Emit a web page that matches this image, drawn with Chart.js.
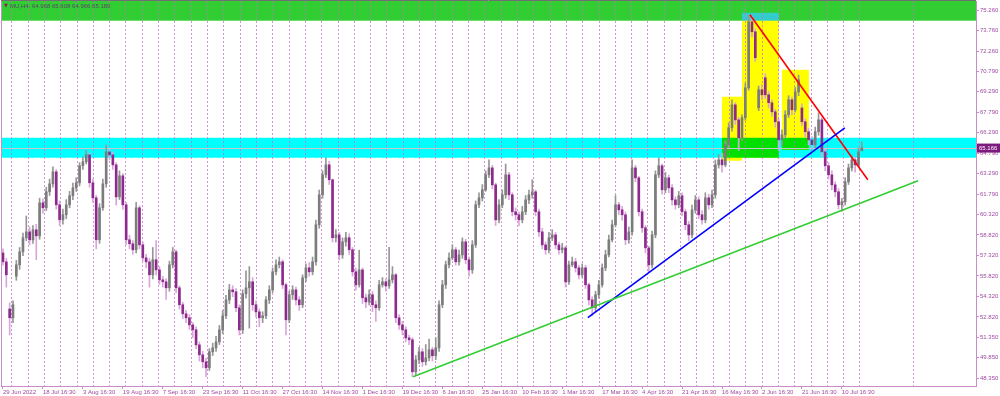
<!DOCTYPE html>
<html>
<head>
<meta charset="utf-8">
<script src="https://cdn.jsdelivr.net/npm/chart.js@4.4.0/dist/chart.umd.min.js"></script>
<style>
  html, body { margin: 0; padding: 0; background: #ffffff; }
  #wrap { width: 1000px; height: 396px; }
</style>
</head>
<body>
<div id="wrap"><canvas id="chart" width="1000" height="396"></canvas></div>
<script>
// MU, H4 candles
const opens = [
    57.50,56.85,53.40,52.76,55.80,56.63,57.58,58.61,59.04,58.46,59.19,58.75,
    61.16,60.80,61.97,62.55,63.43,61.02,59.92,60.29,61.02,61.68,62.26,62.63,
    63.87,64.16,64.67,62.63,61.53,58.46,60.80,62.55,64.89,64.67,63.94,61.60,
    63.14,61.02,58.46,58.17,57.73,60.80,58.09,57.14,56.85,55.90,57.00,56.26,
    55.53,55.39,54.95,56.63,57.58,54.95,53.71,53.05,52.76,52.24,51.88,50.78,
    50.05,49.54,49.10,50.27,50.56,51.00,51.88,52.90,54.07,54.80,54.66,53.49,
    51.88,54.51,54.95,55.39,53.71,53.19,52.76,52.90,54.07,54.80,56.12,56.63,
    56.85,55.17,52.61,54.44,54.80,54.07,53.71,55.68,56.41,56.12,56.85,59.56,
    61.75,63.21,63.94,62.85,58.61,58.82,57.36,58.31,58.61,57.73,56.12,55.17,
    56.26,54.22,53.92,54.44,53.71,53.49,55.17,55.39,55.09,55.53,55.90,52.76,
    52.24,51.88,51.29,51.15,48.81,49.68,50.27,49.54,49.83,50.42,49.98,50.56,
    53.71,55.17,56.63,57.14,57.73,56.85,57.36,58.31,57.00,56.26,58.09,61.02,
    61.53,62.12,63.21,63.72,62.48,59.92,61.02,61.75,63.21,61.75,60.51,60.29,
    59.92,60.51,61.38,61.75,61.97,60.51,59.04,58.09,57.73,58.61,58.82,58.09,
    57.73,57.87,55.39,56.63,56.85,56.41,55.90,56.41,55.17,54.07,53.49,54.44,
    55.17,56.41,57.36,58.46,59.56,61.02,60.65,60.29,58.46,59.04,63.72,62.99,
    60.51,59.34,57.87,56.63,58.82,63.21,63.87,62.12,62.99,62.26,61.38,61.02,
    61.68,60.51,59.56,58.82,60.65,61.38,60.29,59.92,61.53,61.02,61.75,63.94,
    64.31,63.94,65.41,66.65,68.33,67.23,65.92,67.38,69.57,74.40,73.67,68.11,
    69.43,70.31,69.06,68.48,67.82,67.09,65.77,66.14,67.60,68.70,67.97,69.28,
    68.10,67.09,66.36,65.77,65.41,66.36,67.23,64.89,63.87,63.21,62.48,61.97,
    61.02,61.24,62.70,63.72,64.31,63.94,64.97
];
const highs = [
    57.80,57.10,53.85,54.00,56.95,57.90,58.95,60.20,59.40,59.50,59.60,61.50,
    61.45,62.30,62.90,63.80,63.60,61.30,60.70,61.40,62.00,62.60,63.00,64.10,
    64.50,65.00,64.80,62.90,61.70,61.10,62.90,65.40,65.10,64.90,64.10,63.50,
    63.30,61.20,58.80,58.40,61.20,60.95,58.30,57.40,57.10,57.90,58.40,56.50,
    55.80,55.60,56.90,57.90,57.70,55.10,53.90,53.30,53.00,52.40,52.10,51.00,
    50.30,49.80,50.50,50.90,51.40,52.20,53.30,54.40,55.20,55.10,54.90,53.70,
    54.80,56.20,56.50,55.70,54.00,53.40,53.20,54.30,55.10,56.40,57.00,57.20,
    57.00,55.30,54.70,55.10,55.00,54.30,55.90,56.70,56.80,57.20,59.90,62.10,
    63.50,64.45,64.20,62.90,59.20,59.00,58.60,59.00,58.90,57.90,56.40,57.70,
    56.40,54.50,54.80,54.70,54.00,55.50,55.70,55.60,57.90,56.50,56.00,53.00,
    52.50,52.10,51.50,51.30,50.00,50.60,50.50,50.80,51.20,50.60,51.30,54.00,
    55.50,56.90,57.50,58.10,57.90,57.70,58.60,58.50,57.20,58.40,61.30,61.90,
    62.50,63.50,64.30,63.90,62.60,61.40,62.10,64.00,63.40,61.90,60.80,60.50,
    60.90,61.70,62.10,62.85,62.10,60.70,59.30,58.30,59.00,59.20,59.00,58.30,
    58.20,58.00,56.90,57.20,57.10,56.60,56.70,56.60,55.30,54.30,54.70,55.50,
    56.70,57.70,58.80,59.90,61.70,61.20,60.90,60.50,59.40,64.30,63.90,63.10,
    60.70,59.50,58.00,59.10,63.50,64.45,64.00,63.40,63.20,62.50,61.60,62.00,
    61.90,60.70,59.80,61.00,61.70,61.60,60.60,61.90,61.80,62.10,64.30,64.70,
    64.80,65.70,67.00,68.70,68.50,67.40,67.60,69.90,74.90,74.80,73.90,69.70,
    69.80,70.60,69.30,68.70,68.00,67.30,66.50,67.90,69.00,68.90,69.60,70.50,
    68.40,67.30,66.60,66.00,66.70,67.75,67.40,65.10,64.10,63.50,62.70,62.20,
    61.50,63.00,64.00,64.60,64.50,65.20,65.61
];
const lows = [
    56.60,55.00,51.50,52.40,55.50,56.30,57.30,58.40,58.10,58.20,57.00,58.50,
    60.40,60.60,61.70,62.30,60.70,59.50,59.60,60.00,60.80,61.40,62.00,62.40,
    63.60,64.00,62.30,61.20,57.80,58.20,60.60,62.30,64.30,63.60,61.00,61.40,
    60.70,58.10,57.80,57.40,57.50,57.80,56.90,56.40,55.00,55.60,55.90,55.20,
    55.00,54.10,54.70,56.40,54.60,53.40,52.70,52.40,51.90,51.30,50.50,49.60,
    49.10,48.45,48.90,50.00,50.30,50.80,51.60,52.70,53.80,54.30,53.20,51.50,
    51.60,54.20,52.00,53.30,52.80,52.10,52.40,52.70,53.80,54.60,55.90,56.40,
    54.90,51.50,52.40,54.10,53.70,53.30,53.50,55.40,55.80,55.90,56.60,59.30,
    61.50,63.00,62.50,58.30,58.30,57.00,57.10,58.00,57.40,55.80,54.80,55.00,
    53.80,53.50,53.70,53.20,52.50,53.30,55.00,54.70,54.90,55.30,52.40,51.90,
    51.50,51.00,50.80,48.45,48.60,49.40,49.20,49.30,49.60,49.60,49.70,50.30,
    53.50,54.90,56.40,57.00,56.60,56.60,57.10,56.70,55.80,56.00,57.90,60.80,
    61.30,62.00,63.00,62.20,59.50,59.70,60.80,61.50,61.40,60.20,59.90,59.50,
    59.70,60.30,61.10,61.50,60.20,58.70,57.80,57.40,57.50,58.40,57.80,57.40,
    57.50,55.00,55.20,56.50,56.10,55.60,55.70,54.90,53.70,52.90,53.20,54.20,
    55.00,56.20,57.20,58.30,59.40,60.30,59.90,58.10,58.20,58.80,62.70,60.20,
    59.00,57.50,56.10,56.40,58.60,63.00,61.80,61.90,61.90,61.00,60.70,60.80,
    60.20,59.20,58.40,58.60,60.40,60.00,59.60,59.70,60.70,60.80,61.50,63.70,
    63.40,63.80,65.20,66.40,66.90,65.00,65.70,67.20,69.40,73.30,71.50,67.90,
    68.70,68.80,68.10,67.50,66.70,65.00,65.30,65.90,67.40,67.60,67.80,69.00,
    66.80,66.00,65.40,65.10,65.20,66.10,64.50,63.50,62.90,62.10,61.60,60.70,
    60.55,61.00,62.50,63.50,63.40,63.80,64.97
];
const closes = [
    56.85,55.90,52.76,53.71,56.63,57.58,58.61,59.04,58.46,59.19,58.75,61.16,
    60.80,61.97,62.55,63.43,61.02,59.92,60.29,61.02,61.68,62.26,62.63,63.87,
    64.16,64.67,62.63,61.53,58.46,60.80,62.55,64.89,64.67,63.94,61.60,63.14,
    61.02,58.46,58.17,57.73,60.80,58.09,57.14,56.85,55.90,57.00,56.26,55.53,
    55.39,54.95,56.63,57.58,54.95,53.71,53.05,52.76,52.24,51.88,50.78,50.05,
    49.54,49.10,50.27,50.56,51.00,51.88,52.90,54.07,54.80,54.66,53.49,51.88,
    54.51,54.95,55.39,53.71,53.19,52.76,52.90,54.07,54.80,56.12,56.63,56.85,
    55.17,52.61,54.44,54.80,54.07,53.71,55.68,56.41,56.12,56.85,59.56,61.75,
    63.21,63.94,62.85,58.61,58.82,57.36,58.31,58.61,57.73,56.12,55.17,56.26,
    54.22,53.92,54.44,53.71,53.49,55.17,55.39,55.09,55.53,55.90,52.76,52.24,
    51.88,51.29,51.15,48.81,49.68,50.27,49.54,49.83,50.42,49.98,50.56,53.71,
    55.17,56.63,57.14,57.73,56.85,57.36,58.31,57.00,56.26,58.09,61.02,61.53,
    62.12,63.21,63.72,62.48,59.92,61.02,61.75,63.21,61.75,60.51,60.29,59.92,
    60.51,61.38,61.75,61.97,60.51,59.04,58.09,57.73,58.61,58.82,58.09,57.73,
    57.87,55.39,56.63,56.85,56.41,55.90,56.41,55.17,54.07,53.49,54.44,55.17,
    56.41,57.36,58.46,59.56,61.02,60.65,60.29,58.46,59.04,63.72,62.99,60.51,
    59.34,57.87,56.63,58.82,63.21,63.87,62.12,62.99,62.26,61.38,61.02,61.68,
    60.51,59.56,58.82,60.65,61.38,60.29,59.92,61.53,61.02,61.75,63.94,64.31,
    63.94,65.41,66.65,68.33,67.23,65.92,67.38,69.57,74.40,73.67,71.77,69.43,
    69.06,69.06,68.48,67.82,67.09,65.77,66.14,67.60,68.70,67.97,69.28,70.16,
    67.09,66.36,65.77,65.41,66.36,67.23,64.89,63.87,63.21,62.48,61.97,61.02,
    61.24,62.70,63.72,64.31,63.94,64.89,65.18
];

// time axis labels, one every 12 bars
const dateLabels = [
    '29 Jun 2022', '18 Jul 16:30', '3 Aug 16:30', '19 Aug 16:30', '7 Sep 16:30',
    '23 Sep 16:30', '11 Oct 16:30', '27 Oct 16:30', '14 Nov 16:30', '1 Dec 16:30',
    '19 Dec 16:30', '6 Jan 16:30', '25 Jan 16:30', '10 Feb 16:30', '1 Mar 16:30',
    '17 Mar 16:30', '4 Apr 16:30', '21 Apr 16:30', '16 May 16:30', '2 Jun 16:30',
    '21 Jun 16:30', '10 Jul 16:30'
];
const dateLabelBars = dateLabels.map((_, i) => i * 12);

// price axis labels
const priceTicks = [
    75.260, 73.760, 72.260, 70.790, 69.290, 67.790, 66.290, 64.790, 63.290, 61.790,
    60.320, 58.820, 57.320, 55.820, 54.320, 52.820, 51.350, 49.850, 48.350
];

const lastPrice = 65.166;
const titleText = 'MU,H4: 64.968 65.608 64.966 65.180';

// drawn objects, in bar index / price units
const zoneTop = { top: null, bottom: 74.48 };          // green band, to top edge
const zoneMid = { top: 65.92, bottom: 64.46 };         // cyan band
const boxes = [
    { x0: 216.0, x1: 222.0, top: 68.92, bottom: 64.24 },
    { x0: 222.0, x1: 233.1, top: 74.55, bottom: 64.46 },
    { x0: 234.0, x1: 242.1, top: 70.89, bottom: 65.04 }
];
const peakBox = { x0: 222.0, x1: 233.1, top: 75.06, bottom: 74.48 };
const trendLines = [
    { from: [224.4, 74.92], to: [259.8, 62.85], color: '#ff0000' },
    { from: [175.7, 52.77], to: [252.9, 66.65], color: '#0000ff' },
    { from: [123.2, 48.44], to: [274.9, 62.78], color: '#32cd32' }
];

const textColor = '#a04aa0';
const axisColor = '#c88cc8';
const bullBody = '#7c7c7c', bullWick = '#969696';
const bearBody = '#8e2a8e', bearWick = '#d9a6d9';

const isBull = i => closes[i] >= opens[i];

const bodies = opens.map((o, i) => ({ x: i, y: [Math.min(o, closes[i]), Math.max(o, closes[i])] }));
const wicks = highs.map((h, i) => ({ x: i, y: [lows[i], h] }));

const drawings = {
    id: 'drawings',
    beforeDatasetsDraw(chart) {
        const { ctx, chartArea: a, scales: { x, y } } = chart;
        const box = (b, color) => {
            const l = x.getPixelForValue(b.x0 == null ? x.min : b.x0);
            const r = x.getPixelForValue(b.x1 == null ? x.max : b.x1);
            const t = y.getPixelForValue(b.top == null ? y.max : b.top);
            const bt = y.getPixelForValue(b.bottom);
            ctx.fillStyle = color;
            ctx.fillRect(l, t, r - l, bt - t);
        };
        ctx.save();
        ctx.beginPath();
        ctx.rect(a.left, a.top, a.width, a.height);
        ctx.clip();

        box(zoneTop, '#32cd32');
        box(zoneMid, '#00ffff');
        boxes.forEach(b => box(b, '#ffff00'));
        // where a box sits on the cyan band it shows green
        boxes.forEach(b => {
            const top = Math.min(b.top, zoneMid.top);
            const bottom = Math.max(b.bottom, zoneMid.bottom);
            if (top > bottom) box({ x0: b.x0, x1: b.x1, top, bottom }, '#00e000');
        });
        box(peakBox, '#33cccc');

        // bid line
        const py = Math.round(y.getPixelForValue(lastPrice)) + 0.5;
        ctx.strokeStyle = '#c8c8c8';
        ctx.lineWidth = 1;
        ctx.beginPath();
        ctx.moveTo(a.left, py);
        ctx.lineTo(a.right, py);
        ctx.stroke();

        // weekly separators
        ctx.strokeStyle = 'rgba(200, 110, 200, 0.75)';
        ctx.setLineDash([2, 2]);
        const seps = [];
        for (let v = 2.5; v < 259; v += 4.9) seps.push(v);
        seps.push(273.3);
        seps.forEach(v => {
            const px = Math.round(x.getPixelForValue(v)) + 0.5;
            ctx.beginPath();
            ctx.moveTo(px, a.top);
            ctx.lineTo(px, a.bottom);
            ctx.stroke();
        });
        ctx.restore();
    },
    afterDatasetsDraw(chart) {
        const { ctx, chartArea: a, scales: { x, y } } = chart;
        ctx.save();
        ctx.beginPath();
        ctx.rect(a.left, a.top, a.width, a.height);
        ctx.clip();
        ctx.lineWidth = 1.6;
        trendLines.forEach(l => {
            ctx.strokeStyle = l.color;
            ctx.beginPath();
            ctx.moveTo(x.getPixelForValue(l.from[0]), y.getPixelForValue(l.from[1]));
            ctx.lineTo(x.getPixelForValue(l.to[0]), y.getPixelForValue(l.to[1]));
            ctx.stroke();
        });
        ctx.restore();
    },
    afterDraw(chart) {
        const { ctx, chartArea: a, scales: { y } } = chart;
        ctx.save();
        // frame
        ctx.strokeStyle = axisColor;
        ctx.lineWidth = 1;
        ctx.beginPath();
        ctx.moveTo(a.left + 0.5, a.top);
        ctx.lineTo(a.left + 0.5, a.bottom);
        ctx.stroke();
        ctx.strokeStyle = '#707070';
        ctx.beginPath();
        ctx.moveTo(a.left, 0.5);
        ctx.lineTo(a.right, 0.5);
        ctx.stroke();

        // title
        ctx.textBaseline = 'middle';
        ctx.fillStyle = '#8a1a6a';
        ctx.font = '5px "DejaVu Sans"';
        ctx.fillText('▼', 4, 6);
        ctx.fillStyle = '#5a4468';
        ctx.font = '6px "Liberation Sans"';
        ctx.fillText(titleText, 10, 6);

        // last price tag
        const py = y.getPixelForValue(lastPrice);
        ctx.fillStyle = '#7d1a7d';
        ctx.fillRect(a.right + 1, py - 4.5, 23, 9);
        ctx.fillStyle = '#ffffff';
        ctx.fillText(lastPrice.toFixed(3), a.right + 3, py + 0.5);
        ctx.restore();
    }
};

Chart.defaults.font.family = '"Liberation Sans", sans-serif';
Chart.defaults.font.size = 6;
Chart.defaults.color = textColor;

new Chart(document.getElementById('chart'), {
    type: 'bar',
    data: {
        datasets: [
            {
                label: 'body',
                data: bodies,
                barThickness: 2,
                minBarLength: 1,
                grouped: false,
                backgroundColor: c => isBull(c.dataIndex) ? bullBody : bearBody
            },
            {
                label: 'wick',
                data: wicks,
                barThickness: 1,
                grouped: false,
                backgroundColor: c => isBull(c.dataIndex) ? bullWick : bearWick
            }
        ]
    },
    options: {
        responsive: false,
        animation: false,
        devicePixelRatio: 1,
        layout: { padding: { left: 1, top: 1, right: 0, bottom: 0 } },
        plugins: { legend: { display: false }, tooltip: { enabled: false } },
        scales: {
            x: {
                type: 'linear',
                offset: false,
                min: -0.6,
                max: 292.3,
                grid: { display: true, drawOnChartArea: false, offset: false, tickLength: 3, color: axisColor },
                border: { color: axisColor },
                ticks: {
                    autoSkip: false,
                    maxRotation: 0,
                    align: 'start',
                    padding: 0,
                    callback: (v, i) => dateLabels[i]
                },
                afterBuildTicks: s => { s.ticks = dateLabelBars.map(v => ({ value: v })); },
                afterFit: s => { s.height = 10; s.paddingLeft = 0; s.paddingRight = 0; }
            },
            y: {
                position: 'right',
                min: 47.77,
                max: 75.92,
                grid: { display: true, drawOnChartArea: false, tickLength: 3, color: axisColor },
                border: { color: axisColor },
                ticks: {
                    padding: 1,
                    callback: v => v.toFixed(3)
                },
                afterBuildTicks: s => { s.ticks = priceTicks.map(v => ({ value: v })); },
                afterFit: s => { s.width = 24; s.paddingTop = 0; s.paddingBottom = 0; }
            }
        }
    },
    plugins: [drawings]
});
</script>
</body>
</html>
